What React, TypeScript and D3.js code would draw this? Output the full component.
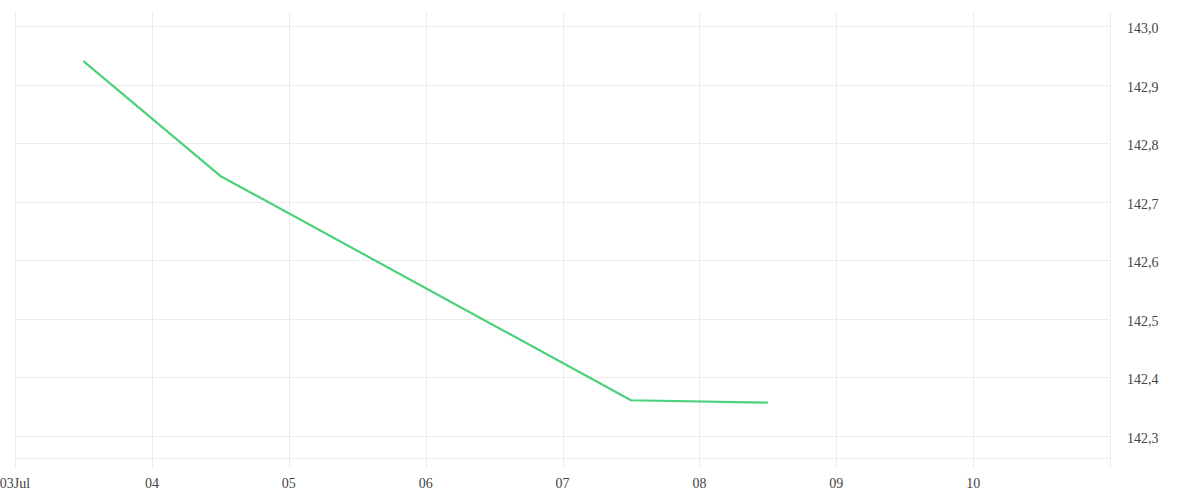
import * as d3 from 'd3';

// Data
const pointTimes = [
  new Date(2024, 6, 3, 12),
  new Date(2024, 6, 4, 12),
  new Date(2024, 6, 7, 12),
  new Date(2024, 6, 8, 12),
];
const pointValues = [142.94, 142.744, 142.361, 142.357];

const xTickDates = d3.timeDay.range(new Date(2024, 6, 3), new Date(2024, 6, 11));
const yTickValues = [142.3, 142.4, 142.5, 142.6, 142.7, 142.8, 142.9, 143.0];

const width = 1200;
const height = 500;
const left = 15;
const right = 1110;
const top = 12;
const bottom = 458;

const commaFmt = d3.formatLocale({
  decimal: ',',
  thousands: '.',
  grouping: [3],
  currency: ['', ' €'],
}).format('.1f');

export default function App() {
  const x = d3
    .scaleTime()
    .domain([new Date(2024, 6, 3), new Date(2024, 6, 11)])
    .range([left, right]);

  // 142,3 sits at y=436 and 143,0 at y=26 in the reference
  const y = d3.scaleLinear().domain([142.3, 143.0]).range([436, 26]);

  const line = d3
    .line<number>()
    .x((_, i) => x(pointTimes[i]))
    .y((d) => y(d));

  const fmtDay = d3.timeFormat('%d');
  const fmtFirst = d3.timeFormat('%d%b');

  const grid = '#ececec';
  const textColor = '#444';
  const font = '"Liberation Serif", serif';

  return (
    <svg
      width={width}
      height={height}
      style={{ position: 'absolute', left: 0, top: 0 }}
    >
      <rect width={width} height={height} fill="#fff" />

      {/* horizontal grid */}
      {yTickValues.map((v) => (
        <line
          key={'h' + v}
          x1={left}
          x2={right}
          y1={Math.round(y(v)) + 0.5}
          y2={Math.round(y(v)) + 0.5}
          stroke={grid}
        />
      ))}
      <line x1={left} x2={right} y1={bottom + 0.5} y2={bottom + 0.5} stroke={grid} />

      {/* vertical grid */}
      {xTickDates.map((d) => (
        <line
          key={'v' + d.getTime()}
          x1={Math.round(x(d)) + 0.5}
          x2={Math.round(x(d)) + 0.5}
          y1={top}
          y2={468}
          stroke={grid}
        />
      ))}
      <line x1={right + 0.5} x2={right + 0.5} y1={top} y2={468} stroke={grid} />

      {/* series */}
      <path
        d={line(pointValues) || ''}
        fill="none"
        stroke="#4cd17b"
        strokeWidth={2.2}
        strokeLinejoin="round"
      />

      {/* x labels */}
      {xTickDates.map((d, i) => (
        <text
          key={'xl' + d.getTime()}
          x={x(d)}
          y={488}
          textAnchor="middle"
          fontFamily={font}
          fontSize={14}
          fill={textColor}
        >
          {i === 0 ? fmtFirst(d) : fmtDay(d)}
        </text>
      ))}

      {/* y labels */}
      {yTickValues.map((v) => (
        <text
          key={'yl' + v}
          x={1127}
          y={y(v) + 7}
          textAnchor="start"
          fontFamily={font}
          fontSize={14}
          fill={textColor}
        >
          {commaFmt(v)}
        </text>
      ))}
    </svg>
  );
}
